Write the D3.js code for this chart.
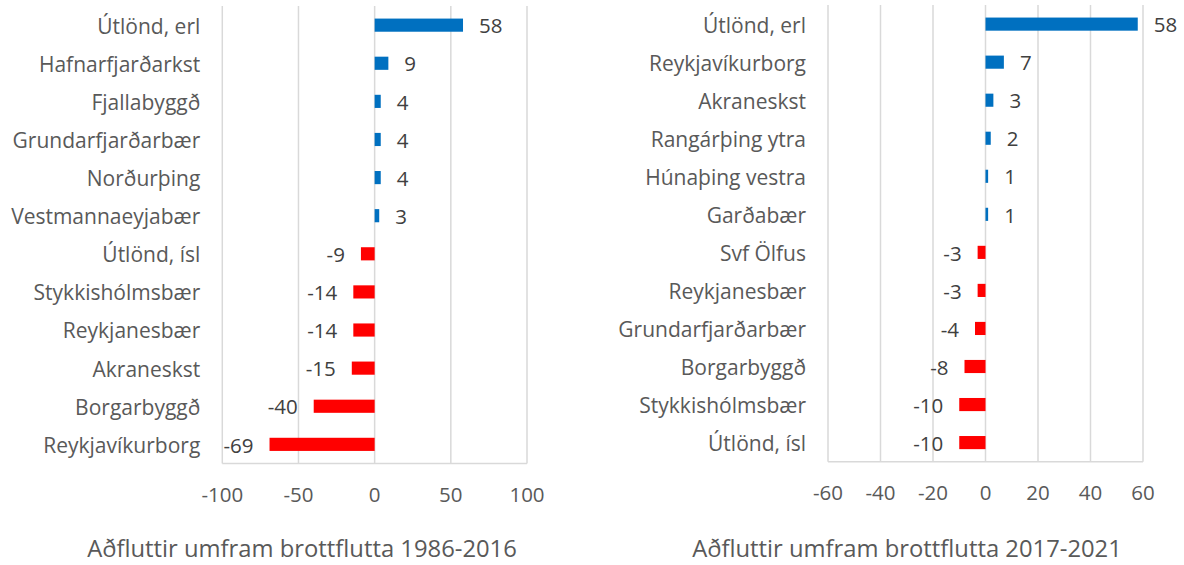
<!DOCTYPE html>
<html>
<head>
<meta charset="utf-8">
<script src="https://cdn.jsdelivr.net/npm/d3@7"></script>
<style>
  html, body { margin: 0; padding: 0; background: #fff; }
  svg { display: block; font-family: "Open Sans", sans-serif; }
</style>
</head>
<body>
<svg id="chart" width="1184" height="565"></svg>
<script>
// ---- Data ----
const categories1 = ["Útlönd, erl", "Hafnarfjarðarkst", "Fjallabyggð", "Grundarfjarðarbær", "Norðurþing", "Vestmannaeyjabær", "Útlönd, ísl", "Stykkishólmsbær", "Reykjanesbær", "Akraneskst", "Borgarbyggð", "Reykjavíkurborg"];
const values1 = [58, 9, 4, 4, 4, 3, -9, -14, -14, -15, -40, -69];
const ticks1 = [-100, -50, 0, 50, 100];
const title1 = "Aðfluttir umfram brottflutta 1986-2016";

const categories2 = ["Útlönd, erl", "Reykjavíkurborg", "Akraneskst", "Rangárþing ytra", "Húnaþing vestra", "Garðabær", "Svf Ölfus", "Reykjanesbær", "Grundarfjarðarbær", "Borgarbyggð", "Stykkishólmsbær", "Útlönd, ísl"];
const values2 = [58, 7, 3, 2, 1, 1, -3, -3, -4, -8, -10, -10];
const ticks2 = [-60, -40, -20, 0, 20, 40, 60];
const title2 = "Aðfluttir umfram brottflutta 2017-2021";

// ---- Drawing ----
const svg = d3.select("#chart");
const textColor = "#595959";
const gridColor = "#D9D9D9";
const posColor = "#0070C0";
const negColor = "#FF0000";

function panel(cfg) {
  const g = svg.append("g");
  const x = d3.scaleLinear().domain([cfg.ticks[0], cfg.ticks[cfg.ticks.length - 1]]).range([cfg.x0, cfg.x1]);
  const y = d3.scaleBand().domain(cfg.categories).range([cfg.top, cfg.bottom]).paddingInner(0.655).paddingOuter(0.33);

  // gridlines
  g.selectAll("line.grid").data(cfg.ticks).join("line")
    .attr("x1", d => x(d)).attr("x2", d => x(d))
    .attr("y1", cfg.top).attr("y2", cfg.bottom)
    .attr("stroke", gridColor).attr("stroke-width", 1.5);
  // bottom axis line
  g.append("line")
    .attr("x1", cfg.x0).attr("x2", cfg.x1)
    .attr("y1", cfg.bottom).attr("y2", cfg.bottom)
    .attr("stroke", gridColor).attr("stroke-width", 1.5);

  // bars
  const data = cfg.categories.map((c, i) => ({ c, v: cfg.values[i] }));
  g.selectAll("rect.bar").data(data).join("rect")
    .attr("x", d => x(Math.min(0, d.v)))
    .attr("width", d => Math.abs(x(d.v) - x(0)))
    .attr("y", d => y(d.c))
    .attr("height", y.bandwidth())
    .attr("fill", d => d.v >= 0 ? posColor : negColor);

  // data labels
  g.selectAll("text.val").data(data).join("text")
    .attr("x", d => d.v >= 0 ? x(d.v) + 16 : x(d.v) - 16)
    .attr("y", d => y(d.c) + y.bandwidth() / 2)
    .attr("dy", "0.4em")
    .attr("text-anchor", d => d.v >= 0 ? "start" : "end")
    .attr("font-size", 20.5)
    .attr("fill", "#404040")
    .text(d => d.v);

  // category labels
  g.selectAll("text.cat").data(data).join("text")
    .attr("x", cfg.x0 - 22)
    .attr("y", d => y(d.c) + y.bandwidth() / 2)
    .attr("dy", "0.4em")
    .attr("text-anchor", "end")
    .attr("font-size", 21)
    .attr("fill", textColor)
    .text(d => d.c);

  // tick labels
  g.selectAll("text.tick").data(cfg.ticks).join("text")
    .attr("x", d => x(d))
    .attr("y", cfg.bottom + 31)
    .attr("dy", "0.38em")
    .attr("text-anchor", "middle")
    .attr("font-size", 20.5)
    .attr("fill", textColor)
    .text(d => d);

  // title
  g.append("text")
    .attr("x", cfg.titleX)
    .attr("y", 548)
    .attr("dy", "0.38em")
    .attr("text-anchor", "middle")
    .attr("font-size", 23.8)
    .attr("fill", textColor)
    .text(cfg.title);
}

panel({ categories: categories1, values: values1, ticks: ticks1, title: title1,
        x0: 222.3, x1: 527, top: 6, bottom: 463.5, titleX: 302 });
panel({ categories: categories2, values: values2, ticks: ticks2, title: title2,
        x0: 828, x1: 1143, top: 5, bottom: 461.7, titleX: 907 });
</script>
</body>
</html>
